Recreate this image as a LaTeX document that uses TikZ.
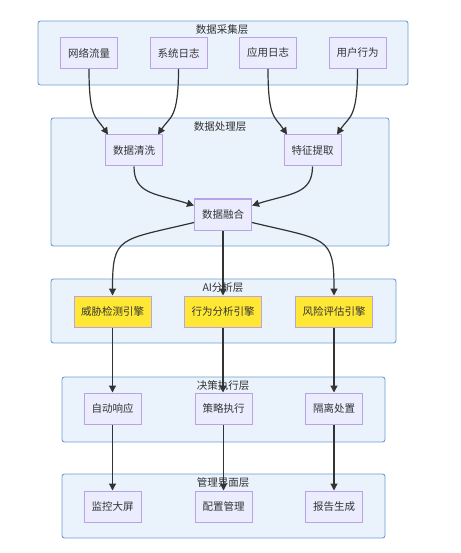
\documentclass[tikz,border=0pt]{standalone}
\usepackage{fontspec}
\setmainfont{Noto Sans CJK SC}
\usetikzlibrary{arrows.meta}
\definecolor{layerfill}{HTML}{EAF2FC}
\definecolor{layerdraw}{HTML}{6E9DD3}
\definecolor{nodefill}{HTML}{ECECFF}
\definecolor{nodedraw}{HTML}{B9A3E6}
\definecolor{enginefill}{HTML}{FFE833}
\definecolor{edgecol}{HTML}{333333}
\begin{document}
\begin{tikzpicture}[x=1pt,y=-1pt,
  font=\fontsize{10.5}{12}\selectfont,
  layer/.style={draw=layerdraw,fill=layerfill,line width=0.9pt,rounded corners=2.5pt},
  ltitle/.style={text=edgecol,inner sep=0pt},
  box/.style={draw=nodedraw,fill=nodefill,line width=1pt,minimum width=57pt,minimum height=31pt,inner sep=0pt,text=edgecol},
  engine/.style={box,fill=enginefill,minimum width=77pt},
  edge/.style={draw=edgecol,line width=1.2pt,-{Triangle[length=7pt,width=7pt]}}
]
\useasboundingbox[fill=white] (0,0) rectangle (460,553);
% layers
\draw[layer] (38,21) rectangle (408,85);
\draw[layer] (51,118) rectangle (389,246);
\draw[layer] (51,279) rectangle (396,343);
\draw[layer] (62,377) rectangle (385,442);
\draw[layer] (62,474) rectangle (385,538);
\node[ltitle] (L1) at (222,30) {数据采集层};
\node[ltitle] (L2) at (220,127) {数据处理层};
\node[ltitle] (L3) at (223,288) {AI分析层};
\node[ltitle] (L4) at (223,386) {决策执行层};
\node[ltitle] (L5) at (223,483) {管理界面层};
% nodes
\node[box] (n1) at (89,53) {网络流量};
\node[box] (n2) at (178.5,53) {系统日志};
\node[box] (n3) at (268,53) {应用日志};
\node[box] (n4) at (357.5,53) {用户行为};
\node[box] (c1) at (134,150.5) {数据清洗};
\node[box] (c2) at (312.5,150.5) {特征提取};
\node[box] (m) at (223,214.5) {数据融合};
\node[engine] (t1) at (112.5,311.5) {威胁检测引擎};
\node[engine] (t2) at (223,311.5) {行为分析引擎};
\node[engine] (t3) at (334,311.5) {风险评估引擎};
\node[box] (d1) at (112.5,408.5) {自动响应};
\node[box] (d2) at (223.5,408.5) {策略执行};
\node[box] (d3) at (334,408.5) {隔离处置};
\node[box] (u1) at (112.5,506.5) {监控大屏};
\node[box] (u2) at (223.5,506.5) {配置管理};
\node[box] (u3) at (334,506.5) {报告生成};
% edges
\draw[edge] (n1.south) .. controls +(0,50) and +(-12,-18) .. ([xshift=-26pt]c1.north);
\draw[edge] (n2.south) .. controls +(0,50) and +(12,-18) .. ([xshift=24pt]c1.north);
\draw[edge] (n3.south) .. controls +(0,50) and +(-12,-18) .. ([xshift=-25.5pt]c2.north);
\draw[edge] (n4.south) .. controls +(0,50) and +(12,-18) .. ([xshift=24.5pt]c2.north);
\draw[edge] (c1.south) .. controls +(0,28) and +(-38,-12) .. ([yshift=9pt]m.west);
\draw[edge] (c2.south) .. controls +(0,28) and +(38,-12) .. ([yshift=9pt]m.east);
\draw[edge] ([yshift=-8pt]m.west) .. controls +(-75,18) and +(0,-60) .. (t1.north);
\draw[edge] (m.south) -- (t2.north);
\draw[edge] ([yshift=-8pt]m.east) .. controls +(75,18) and +(0,-60) .. (t3.north);
\draw[edge] (t1.south) -- (d1.north);
\draw[edge] (t2.south) -- (t2.south |- d2.north);
\draw[edge] (t3.south) -- (d3.north);
\draw[edge] (d1.south) -- (u1.north);
\draw[edge] (d2.south) -- (u2.north);
\draw[edge] (d3.south) -- (u3.north);
\end{tikzpicture}
\end{document}
